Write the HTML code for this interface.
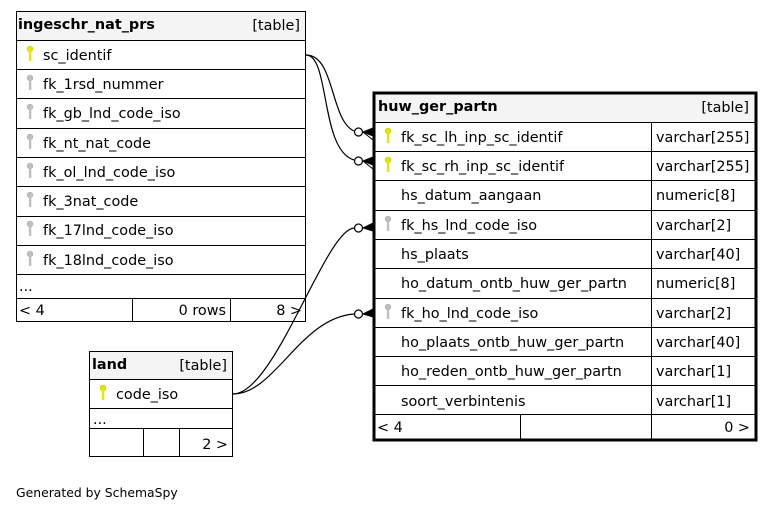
<!DOCTYPE html>
<html><head><meta charset="utf-8"><style>
html,body{margin:0;padding:0;background:#fff;width:775px;height:512px;overflow:hidden}
text{font-family:"DejaVu Sans","Liberation Sans",sans-serif;font-size:14.4px;fill:#000}
.b{font-weight:bold}
</style></head><body>
<svg width="775" height="512" xmlns="http://www.w3.org/2000/svg">
<defs>
<g id="ky"><circle cx="0" cy="-1" r="2.8" fill="#e6e600" stroke="#c8c800" stroke-width="0.6"/><rect x="-1.1" y="1" width="2.4" height="10" fill="#e6e600"/></g>
<g id="kg"><circle cx="0" cy="-1" r="2.8" fill="#c0c0c0" stroke="#aaa" stroke-width="0.6"/><rect x="-1.1" y="1" width="2.4" height="10" fill="#c0c0c0"/></g>
</defs>

<rect x="16.5" y="11.5" width="289" height="29" fill="#f4f4f4"/>
<g stroke="#000" stroke-width="1" fill="none">
<rect x="16.5" y="11.5" width="289" height="310"/>
<line x1="16" y1="40.5" x2="306" y2="40.5"/>
<line x1="16" y1="69.5" x2="306" y2="69.5"/>
<line x1="16" y1="98.5" x2="306" y2="98.5"/>
<line x1="16" y1="128.5" x2="306" y2="128.5"/>
<line x1="16" y1="157.5" x2="306" y2="157.5"/>
<line x1="16" y1="186.5" x2="306" y2="186.5"/>
<line x1="16" y1="216.5" x2="306" y2="216.5"/>
<line x1="16" y1="245.5" x2="306" y2="245.5"/>
<line x1="16" y1="274.5" x2="306" y2="274.5"/>
<line x1="16" y1="298.5" x2="306" y2="298.5"/>
<line x1="132.5" y1="298" x2="132.5" y2="322"/>
<line x1="230.5" y1="298" x2="230.5" y2="322"/>
</g>
<text x="18" y="29" class="b">ingeschr_nat_prs</text>
<text x="300" y="30" text-anchor="end">[table]</text>
<use href="#ky" x="30" y="50"/><text x="43" y="60">sc_identif</text>
<use href="#kg" x="30" y="79"/><text x="43" y="89">fk_1rsd_nummer</text>
<use href="#kg" x="30" y="108"/><text x="43" y="118">fk_gb_lnd_code_iso</text>
<use href="#kg" x="30" y="138"/><text x="43" y="148">fk_nt_nat_code</text>
<use href="#kg" x="30" y="167"/><text x="43" y="177">fk_ol_lnd_code_iso</text>
<use href="#kg" x="30" y="196"/><text x="43" y="206">fk_3nat_code</text>
<use href="#kg" x="30" y="225"/><text x="43" y="235">fk_17lnd_code_iso</text>
<use href="#kg" x="30" y="255"/><text x="43" y="265">fk_18lnd_code_iso</text>
<text x="19" y="291">...</text>
<text x="19" y="315">&lt; 4</text>
<text x="226" y="315" text-anchor="end">0 rows</text>
<text x="302" y="315" text-anchor="end">8 &gt;</text>

<rect x="89.5" y="351.5" width="143" height="28" fill="#f4f4f4"/>
<g stroke="#000" stroke-width="1" fill="none">
<rect x="89.5" y="351.5" width="143" height="105"/>
<line x1="89" y1="379.5" x2="233" y2="379.5"/>
<line x1="89" y1="408.5" x2="233" y2="408.5"/>
<line x1="89" y1="428.5" x2="233" y2="428.5"/>
<line x1="143.5" y1="428" x2="143.5" y2="457"/>
<line x1="179.5" y1="428" x2="179.5" y2="457"/>
</g>
<text x="92" y="369" class="b">land</text>
<text x="227" y="370" text-anchor="end">[table]</text>
<use href="#ky" x="103" y="389"/><text x="116" y="399">code_iso</text>
<text x="93" y="424">...</text>
<text x="228" y="449" text-anchor="end">2 &gt;</text>

<rect x="374" y="93" width="382" height="29" fill="#f4f4f4"/>
<g stroke="#000" stroke-width="1" fill="none">
<line x1="374" y1="122.5" x2="756" y2="122.5"/>
<line x1="374" y1="151.5" x2="756" y2="151.5"/>
<line x1="374" y1="180.5" x2="756" y2="180.5"/>
<line x1="374" y1="210.5" x2="756" y2="210.5"/>
<line x1="374" y1="239.5" x2="756" y2="239.5"/>
<line x1="374" y1="268.5" x2="756" y2="268.5"/>
<line x1="374" y1="298.5" x2="756" y2="298.5"/>
<line x1="374" y1="327.5" x2="756" y2="327.5"/>
<line x1="374" y1="356.5" x2="756" y2="356.5"/>
<line x1="374" y1="385.5" x2="756" y2="385.5"/>
<line x1="374" y1="414.5" x2="756" y2="414.5"/>
<line x1="651.5" y1="122" x2="651.5" y2="440"/>
<line x1="520.5" y1="414" x2="520.5" y2="440"/>
</g>
<rect x="374" y="93" width="382" height="347" fill="none" stroke="#000" stroke-width="3"/>
<text x="378" y="111" class="b">huw_ger_partn</text>
<text x="749" y="112" text-anchor="end">[table]</text>
<use href="#ky" x="388" y="132"/><text x="401" y="142">fk_sc_lh_inp_sc_identif</text><text x="656" y="142">varchar[255]</text>
<use href="#ky" x="388" y="161"/><text x="401" y="171">fk_sc_rh_inp_sc_identif</text><text x="656" y="171">varchar[255]</text>
<text x="401" y="200">hs_datum_aangaan</text><text x="656" y="200">numeric[8]</text>
<use href="#kg" x="388" y="220"/><text x="401" y="230">fk_hs_lnd_code_iso</text><text x="656" y="230">varchar[2]</text>
<text x="401" y="259">hs_plaats</text><text x="656" y="259">varchar[40]</text>
<text x="401" y="288">ho_datum_ontb_huw_ger_partn</text><text x="656" y="288">numeric[8]</text>
<use href="#kg" x="388" y="308"/><text x="401" y="318">fk_ho_lnd_code_iso</text><text x="656" y="318">varchar[2]</text>
<text x="401" y="347">ho_plaats_ontb_huw_ger_partn</text><text x="656" y="347">varchar[40]</text>
<text x="401" y="376">ho_reden_ontb_huw_ger_partn</text><text x="656" y="376">varchar[1]</text>
<text x="401" y="406">soort_verbintenis</text><text x="656" y="406">varchar[1]</text>
<text x="377" y="432">&lt; 4</text>
<text x="750" y="432" text-anchor="end">0 &gt;</text>

<g stroke="#000" stroke-width="1.2" fill="none">
<path d="M306,55 C335,55 330,120 354,131"/>
<path d="M306,55 C330,55 320,150 354,160"/>
<path d="M233,394 C275,394 325,230 354,228"/>
<path d="M233,394 C275,394 300,318 354,314"/>
</g>
<g stroke="#000" stroke-width="1.2" fill="#fff">
<circle cx="358.5" cy="132" r="4"/>
<circle cx="358.5" cy="161" r="4"/>
<circle cx="358.5" cy="228" r="4"/>
<circle cx="358.5" cy="314" r="4"/>
</g>
<g fill="#000" stroke="#000" stroke-width="1">
<path d="M363,132 L373,128 L373,136 Z M363,132 L373,140"/>
<path d="M363,161 L373,157 L373,165 Z M363,161 L373,169"/>
<path d="M363,228 L373,223 L373,231 Z"/>
<path d="M363,314 L373,309 L373,317 Z"/>
</g>

<text x="16" y="497" style="font-size:12.4px">Generated by SchemaSpy</text>
</svg>
</body></html>
